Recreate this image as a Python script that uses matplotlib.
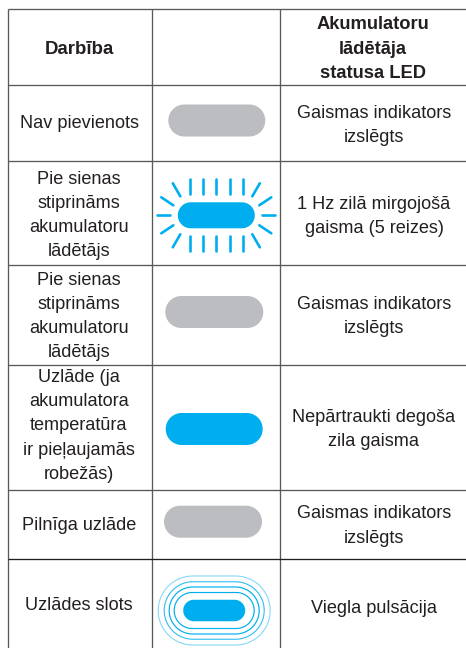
import numpy as np
import matplotlib
matplotlib.use("Agg")
import matplotlib.pyplot as plt
from matplotlib.patches import Polygon

plt.rcParams["font.family"] = ["Liberation Sans", "DejaVu Sans"]

# table content
headers = ["Darbība", "", "Akumulatoru\nlādētāja\nstatusa LED"]
actions = [
    "Nav pievienots",
    "Pie sienas\nstiprināms\nakumulatoru\nlādētājs",
    "Pie sienas\nstiprināms\nakumulatoru\nlādētājs",
    "Uzlāde (ja\nakumulatora\ntemperatūra\nir pieļaujamās\nrobežās)",
    "Pilnīga uzlāde",
    "Uzlādes slots",
]
statuses = [
    "Gaismas indikators\nizslēgts",
    "1 Hz zilā mirgojošā\ngaisma (5 reizes)",
    "Gaismas indikators\nizslēgts",
    "Nepārtraukti degoša\nzila gaisma",
    "Gaismas indikators\nizslēgts",
    "Viegla pulsācija",
]

col_x = [7.5, 151.5, 279.5]
row_y = [8.5, 85, 161, 265, 365, 489.5, 559]
text_y_act = [123, 215.5, 316.5, 426, 526, 605]
text_y_sta = [125.5, 216.5, 316.5, 429.5, 526, 608.5]

GREY = "#bcbdc0"
BLUE = "#00aeef"
INK = "#231f20"
LINE = "#58595b"
FS = 13.1
LS = 1.54

fig = plt.figure(figsize=(4.66, 6.48), dpi=100)
ax = fig.add_axes([0, 0, 1, 1])
ax.set_xlim(0, 466)
ax.set_ylim(648, 0)
ax.axis("off")


def pill(cx, cy, w, h, **kw):
    r = h / 2
    t = np.linspace(-np.pi / 2, np.pi / 2, 40)
    xs = np.r_[cx + w / 2 - r + r * np.cos(t), cx - w / 2 + r - r * np.cos(t[::-1])]
    ys = np.r_[cy + r * np.sin(t), cy + r * np.sin(t[::-1])]
    ax.add_patch(Polygon(np.c_[xs, ys], closed=True, **kw))


def ray(x0, x1, y0, y1):
    ax.plot([x0, x1], [y0, y1], color=BLUE, lw=1.9, solid_capstyle="round")


# grid, no right border in the source
for x in col_x:
    ax.plot([x, x], [row_y[0], 648], color=LINE, lw=0.95, solid_capstyle="butt")
for y in row_y[:-1]:
    ax.plot([col_x[0], 466], [y, y], color=LINE, lw=0.95, solid_capstyle="butt")
ax.plot([col_x[0], 466], [row_y[-1]] * 2, color=INK, lw=0.95, solid_capstyle="butt")

# header
ax.text(79, 49, headers[0], ha="center", va="center", fontsize=FS + 0.3, fontweight="bold", color=INK)
ax.text(372.5, 49, headers[2], ha="center", va="center", fontsize=FS + 0.1, fontweight="bold",
        color=INK, linespacing=LS)

# body text
for i in range(6):
    ax.text(79, text_y_act[i], actions[i], ha="center", va="center", fontsize=FS, color=INK, linespacing=LS)
    ax.text(374, text_y_sta[i], statuses[i], ha="center", va="center", fontsize=FS, color=INK, linespacing=LS)

# LED icons
pill(216.8, 120.5, 97, 32, fc=GREY, ec="none")
pill(214.3, 312, 98, 32, fc=GREY, ec="none")
pill(213, 521.7, 98, 32, fc=GREY, ec="none")
pill(214.2, 429, 97, 32, fc=BLUE, ec="none")

# blinking
cx, cy = 216.3, 215.3
pill(cx, cy, 77, 26, fc=BLUE, ec="none")
for dx in (-26.7, -13.3, 0, 13.3, 26.7):
    ray(cx + dx, cx + dx, cy - 36, cy - 21)
    ray(cx + dx, cx + dx, cy + 21, cy + 36)
for s in (-1, 1):
    ray(cx + s * 46, cx + s * 59, cy, cy)
    for v in (-1, 1):
        ray(cx + s * 43, cx + s * 55, cy + v * 10, cy + v * 18)
        ray(cx + s * 36, cx + s * 43.5, cy + v * 19, cy + v * 32)

# pulsing
cx, cy = 214.2, 610.5
pill(cx, cy, 62, 21.5, fc=BLUE, ec="none")
pill(cx, cy, 80, 36, fc="none", ec=BLUE, lw=0.85)
pill(cx, cy, 90, 47, fc="none", ec=BLUE, lw=0.85)
pill(cx, cy, 100, 57.5, fc="none", ec="#30bdf2", lw=0.8)
pill(cx, cy, 112, 69, fc="none", ec="#7fd6f7", lw=0.75)

fig.savefig("out.png", dpi=100)
